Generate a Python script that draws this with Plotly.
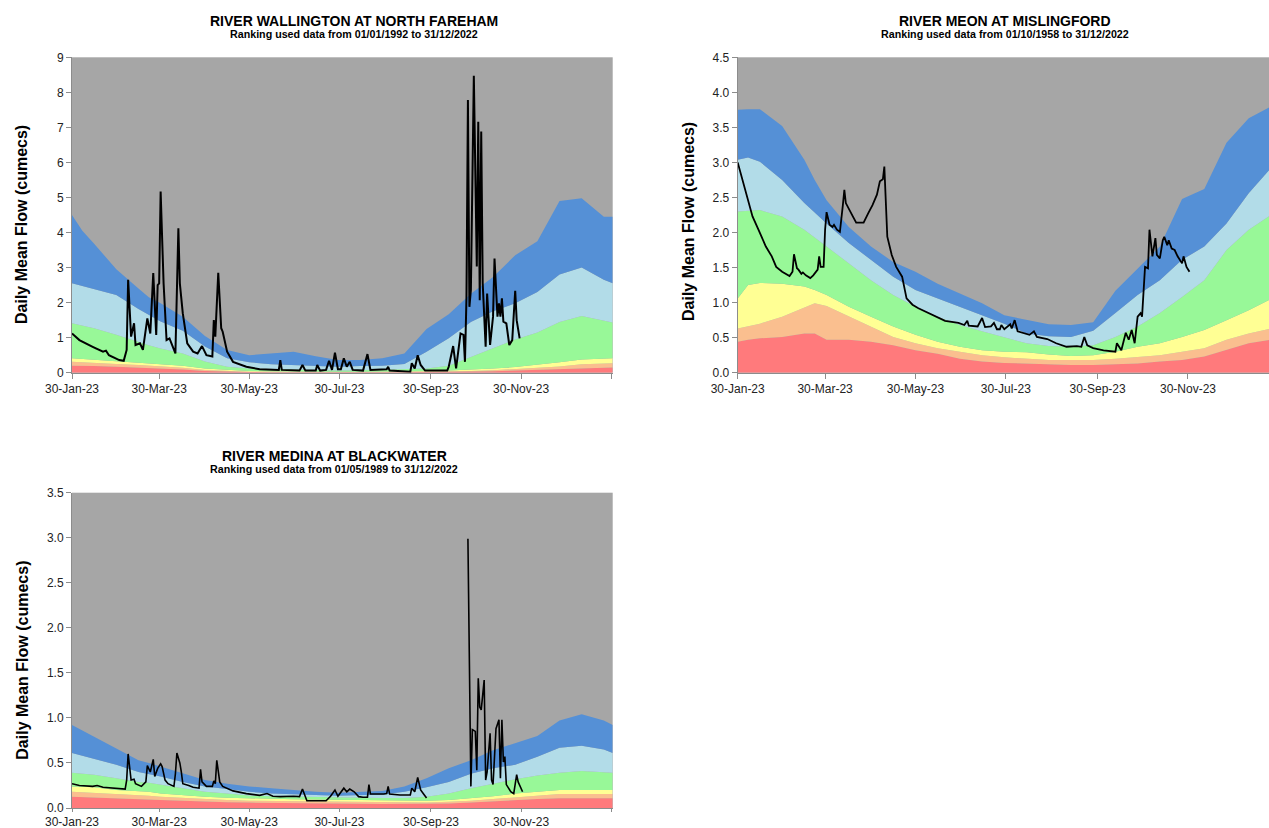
import pandas as pd
import plotly.graph_objects as go

START = pd.Timestamp("2023-01-30")

# ---------------- band sample days (offset from 30-Jan-23) ----------------
band_days = [0, 7, 15, 30, 45, 52, 60, 75, 90, 105, 120, 135, 150, 165, 180,
             195, 210, 225, 240, 255, 270, 285, 300, 315, 330, 345, 360, 366]

# ---- River Wallington at North Fareham: band upper limits (cumecs) ----
wal_red = [0.2, 0.2, 0.19, 0.17, 0.15, 0.135, 0.12, 0.09, 0.05, 0.03, 0.02, 0.015, 0.01, 0.01, 0.01,
           0.01, 0.01, 0.015, 0.02, 0.02, 0.03, 0.04, 0.06, 0.08, 0.11, 0.14, 0.15, 0.15]
wal_orange = [0.31, 0.3, 0.28, 0.25, 0.22, 0.2, 0.19, 0.14, 0.08, 0.05, 0.03, 0.025, 0.02, 0.02, 0.02,
              0.02, 0.02, 0.025, 0.03, 0.04, 0.05, 0.07, 0.1, 0.13, 0.18, 0.24, 0.27, 0.27]
wal_yellow = [0.41, 0.39, 0.37, 0.33, 0.3, 0.28, 0.26, 0.2, 0.12, 0.08, 0.05, 0.04, 0.03, 0.03, 0.03,
              0.03, 0.03, 0.04, 0.05, 0.06, 0.08, 0.12, 0.16, 0.22, 0.3, 0.38, 0.41, 0.41]
wal_green = [1.41, 1.34, 1.27, 1.08, 0.86, 0.78, 0.69, 0.55, 0.32, 0.17, 0.12, 0.1, 0.08, 0.07, 0.06,
             0.07, 0.08, 0.1, 0.12, 0.2, 0.45, 0.72, 0.95, 1.15, 1.45, 1.62, 1.48, 1.43]
wal_lblue = [2.55, 2.47, 2.38, 2.22, 1.82, 1.66, 1.46, 1.2, 0.75, 0.41, 0.3, 0.24, 0.22, 0.2, 0.17,
             0.19, 0.2, 0.25, 0.6, 0.98, 1.45, 1.75, 1.98, 2.3, 2.8, 3.0, 2.65, 2.55]
wal_blue = [4.5, 4.05, 3.68, 2.95, 2.4, 2.15, 1.98, 1.6, 1.05, 0.65, 0.5, 0.55, 0.6, 0.47, 0.36,
            0.36, 0.41, 0.55, 1.25, 1.67, 2.25, 2.73, 3.35, 3.75, 4.9, 4.98, 4.45, 4.45]

# ---- River Meon at Mislingford ----
meon_red = [0.44, 0.47, 0.49, 0.51, 0.56, 0.56, 0.47, 0.47, 0.44, 0.39, 0.32, 0.27, 0.2, 0.16, 0.14,
            0.13, 0.11, 0.11, 0.11, 0.12, 0.13, 0.16, 0.18, 0.23, 0.32, 0.42, 0.47, 0.48]
meon_orange = [0.63, 0.66, 0.7, 0.8, 0.93, 0.99, 0.95, 0.8, 0.66, 0.51, 0.42, 0.35, 0.3, 0.25, 0.22,
               0.2, 0.18, 0.18, 0.18, 0.2, 0.23, 0.25, 0.3, 0.35, 0.47, 0.56, 0.63, 0.64]
meon_yellow = [1.06, 1.25, 1.28, 1.27, 1.23, 1.18, 1.11, 0.94, 0.8, 0.66, 0.54, 0.44, 0.37, 0.32, 0.3,
               0.29, 0.26, 0.24, 0.25, 0.3, 0.37, 0.42, 0.51, 0.61, 0.75, 0.89, 1.05, 1.08]
meon_green = [2.3, 2.31, 2.32, 2.23, 2.04, 1.93, 1.8, 1.56, 1.32, 1.11, 0.94, 0.8, 0.68, 0.59, 0.5,
              0.42, 0.38, 0.37, 0.39, 0.51, 0.66, 0.85, 1.08, 1.32, 1.75, 2.04, 2.25, 2.3]
meon_lblue = [3.04, 3.07, 3.01, 2.75, 2.42, 2.28, 2.13, 1.85, 1.61, 1.37, 1.18, 1.06, 0.94, 0.82, 0.7,
              0.56, 0.52, 0.51, 0.6, 0.85, 1.11, 1.32, 1.61, 1.8, 2.13, 2.56, 2.92, 3.0]
meon_blue = [3.75, 3.76, 3.76, 3.52, 3.04, 2.75, 2.46, 2.08, 1.8, 1.58, 1.44, 1.27, 1.13, 0.99, 0.82,
             0.75, 0.69, 0.68, 0.72, 1.17, 1.48, 1.8, 2.48, 2.62, 3.28, 3.63, 3.8, 3.75]

# ---- River Medina at Blackwater ----
med_red = [0.125, 0.12, 0.115, 0.107, 0.1, 0.095, 0.09, 0.08, 0.07, 0.065, 0.06, 0.056, 0.052, 0.052, 0.05,
           0.047, 0.045, 0.045, 0.045, 0.05, 0.06, 0.075, 0.09, 0.1, 0.107, 0.107, 0.107, 0.107]
med_orange = [0.18, 0.175, 0.17, 0.155, 0.14, 0.135, 0.125, 0.11, 0.096, 0.088, 0.08, 0.077, 0.074, 0.072, 0.07,
              0.065, 0.06, 0.06, 0.06, 0.07, 0.08, 0.1, 0.12, 0.14, 0.155, 0.155, 0.155, 0.155]
med_yellow = [0.24, 0.235, 0.23, 0.2, 0.185, 0.18, 0.16, 0.14, 0.125, 0.115, 0.107, 0.1, 0.096, 0.093, 0.09,
              0.085, 0.08, 0.08, 0.08, 0.09, 0.11, 0.13, 0.16, 0.18, 0.2, 0.2, 0.2, 0.2]
med_green = [0.39, 0.38, 0.37, 0.33, 0.29, 0.28, 0.26, 0.22, 0.18, 0.16, 0.14, 0.13, 0.125, 0.12, 0.12,
             0.11, 0.11, 0.11, 0.125, 0.16, 0.22, 0.27, 0.32, 0.36, 0.39, 0.41, 0.4, 0.39]
med_lblue = [0.61, 0.58, 0.55, 0.48, 0.4, 0.38, 0.35, 0.29, 0.24, 0.21, 0.18, 0.16, 0.155, 0.145, 0.135,
             0.144, 0.15, 0.18, 0.23, 0.29, 0.38, 0.44, 0.48, 0.57, 0.67, 0.69, 0.65, 0.61]
med_blue = [0.92, 0.86, 0.79, 0.66, 0.53, 0.5, 0.46, 0.38, 0.31, 0.27, 0.24, 0.22, 0.2, 0.18, 0.17,
            0.18, 0.19, 0.24, 0.33, 0.44, 0.53, 0.64, 0.72, 0.8, 0.97, 1.04, 0.97, 0.92]

# ---------------- daily mean flow 2023 (day offset, cumecs) ----------------
wal_flow_days = [0, 5, 14, 21, 23, 25, 32, 35, 37, 38, 40, 42, 43, 46, 48, 51, 53, 55, 57, 58, 59, 60, 62, 64,
                 66, 70, 72, 73, 75, 78, 82, 85, 88, 91, 95, 96, 97, 99, 101, 102, 105, 109, 118, 127, 140,
                 141, 142, 154, 156, 158, 165, 166, 168, 172, 174, 176, 178, 180, 182, 184, 186, 188, 190,
                 197, 200, 202, 213, 214, 215, 229, 230, 232, 234, 236, 239, 254, 255, 258, 260, 261, 263,
                 265, 266, 267, 268, 269, 270, 272, 274, 275, 276, 277, 278, 280, 281, 283, 285, 286, 287,
                 288, 289, 290, 291, 292, 294, 296, 298, 300, 301, 303]
wal_flow = [1.12, 0.93, 0.74, 0.6, 0.63, 0.5, 0.36, 0.34, 0.65, 2.65, 1.03, 1.41, 0.79, 0.84, 0.65, 1.55, 1.12,
            2.84, 1.08, 2.5, 2.55, 5.17, 2.55, 0.93, 0.98, 0.55, 4.12, 2.55, 1.69, 0.84, 0.6, 0.55, 0.76, 0.5,
            0.46, 1.5, 1.03, 2.85, 1.27, 1.17, 0.6, 0.31, 0.17, 0.1, 0.08, 0.36, 0.08, 0.06, 0.22, 0.06, 0.06,
            0.22, 0.06, 0.08, 0.34, 0.08, 0.57, 0.1, 0.1, 0.41, 0.17, 0.31, 0.08, 0.06, 0.53, 0.08, 0.1, 0.17,
            0.06, 0.03, 0.27, 0.12, 0.5, 0.22, 0.06, 0.06, 0.17, 0.76, 0.12, 0.41, 1.12, 1.08, 0.31, 2.12,
            7.78, 1.88, 2.36, 8.47, 3.03, 7.16, 2.07, 6.88, 2.55, 0.74, 2.26, 0.79, 1.6, 3.26, 2.36, 1.6,
            1.98, 1.6, 2.12, 1.46, 1.41, 0.79, 0.93, 2.34, 1.5, 0.98]

meon_flow_days = [0, 5, 10, 14, 19, 23, 26, 30, 35, 37, 38, 40, 41, 43, 44, 46, 49, 51, 54, 55, 56, 58, 59,
                  60, 62, 64, 65, 67, 69, 71, 72, 73, 75, 78, 80, 85, 88, 91, 94, 96, 98, 99, 101, 104, 107,
                  111, 114, 118, 122, 127, 133, 140, 149, 153, 155, 156, 162, 165, 167, 171, 173, 175, 177,
                  178, 180, 184, 185, 187, 189, 193, 197, 200, 202, 209, 215, 222, 229, 232, 234, 236, 240,
                  247, 255, 256, 259, 262, 264, 266, 268, 270, 272, 273, 274, 275, 277, 278, 280, 282, 283,
                  285, 287, 288, 290, 291, 293, 295, 297, 300, 301, 303, 305]
meon_flow = [3.0, 2.61, 2.23, 2.04, 1.8, 1.66, 1.51, 1.44, 1.38, 1.44, 1.69, 1.49, 1.47, 1.41, 1.43, 1.39,
             1.35, 1.39, 1.47, 1.66, 1.51, 1.51, 2.04, 2.29, 2.11, 2.08, 2.11, 2.04, 2.01, 2.39, 2.61, 2.42,
             2.33, 2.22, 2.14, 2.14, 2.27, 2.39, 2.54, 2.73, 2.76, 2.94, 1.94, 1.68, 1.51, 1.37, 1.06, 0.97,
             0.92, 0.87, 0.8, 0.74, 0.71, 0.68, 0.74, 0.67, 0.66, 0.78, 0.65, 0.66, 0.71, 0.62, 0.62, 0.68,
             0.62, 0.69, 0.63, 0.75, 0.59, 0.56, 0.54, 0.59, 0.51, 0.48, 0.42, 0.37, 0.38, 0.37, 0.51, 0.39,
             0.35, 0.32, 0.3, 0.42, 0.32, 0.57, 0.47, 0.61, 0.42, 0.8, 0.85, 0.8, 1.27, 1.51, 1.49, 2.04,
             1.66, 1.92, 1.68, 1.63, 1.89, 1.94, 1.82, 1.89, 1.77, 1.75, 1.66, 1.56, 1.66, 1.51, 1.44]

med_flow_days = [0, 5, 14, 17, 21, 28, 36, 37, 38, 40, 42, 43, 47, 50, 51, 53, 55, 56, 58, 60, 61, 63, 65,
                 69, 70, 71, 73, 74, 75, 79, 82, 86, 87, 88, 91, 95, 96, 97, 98, 100, 102, 109, 118, 127,
                 132, 136, 141, 150, 154, 156, 158, 159, 168, 172, 175, 178, 180, 184, 186, 188, 191, 194,
                 197, 200, 201, 202, 211, 213, 214, 215, 222, 229, 230, 232, 234, 236, 238, 240, 254,
                 268, 270, 271, 273, 274, 275, 276, 277, 279, 280, 281, 283, 284, 285, 287, 289, 290, 291,
                 292, 293, 294, 297, 299, 301, 302, 305]
med_flow = [0.27, 0.25, 0.24, 0.25, 0.23, 0.22, 0.21, 0.31, 0.6, 0.31, 0.32, 0.27, 0.24, 0.29, 0.47, 0.4,
            0.54, 0.35, 0.44, 0.49, 0.46, 0.31, 0.27, 0.24, 0.38, 0.61, 0.5, 0.4, 0.27, 0.25, 0.23, 0.22,
            0.43, 0.29, 0.24, 0.24, 0.3, 0.27, 0.53, 0.29, 0.24, 0.19, 0.16, 0.14, 0.16, 0.13, 0.126, 0.13,
            0.126, 0.21, 0.107, 0.08, 0.08, 0.08, 0.13, 0.2, 0.13, 0.22, 0.18, 0.21, 0.18, 0.126, 0.12,
            0.12, 0.26, 0.155, 0.155, 0.16, 0.24, 0.155, 0.144, 0.144, 0.22, 0.18, 0.34, 0.2, 0.155, 0.11,
            None, 2.99, 0.24, 0.87, 0.85, 0.42, 1.44, 1.12, 1.09, 1.42, 0.31, 0.4, 0.83, 0.31, 0.26, 0.88,
            0.98, 0.33, 0.98, 0.51, 0.57, 0.26, 0.18, 0.16, 0.37, 0.29, 0.18]

titles = ["RIVER WALLINGTON AT NORTH FAREHAM", "RIVER MEON AT MISLINGFORD", "RIVER MEDINA AT BLACKWATER"]
subtitles = ["Ranking used data from 01/01/1992 to 31/12/2022",
             "Ranking used data from 01/10/1958 to 31/12/2022",
             "Ranking used data from 01/05/1989 to 31/12/2022"]
tick_dates = ["2023-01-30", "2023-03-30", "2023-05-30", "2023-07-30", "2023-09-30", "2023-11-30", "2024-01-30"]
tick_text = ["30-Jan-23", "30-Mar-23", "30-May-23", "30-Jul-23", "30-Sep-23", "30-Nov-23", ""]
y_label = "Daily Mean Flow (cumecs)"

band_colors = ["#FF7A7C", "#FABF8F", "#FFFF94", "#98F898", "#B2DCE8", "#5590D6"]
BG_GREY = "#A6A6A6"


def to_dates(days):
    return [START + pd.Timedelta(days=d) for d in days]


charts = [
    dict(bands=[wal_red, wal_orange, wal_yellow, wal_green, wal_lblue, wal_blue],
         days=wal_flow_days, flow=wal_flow, lw=2.0),
    dict(bands=[meon_red, meon_orange, meon_yellow, meon_green, meon_lblue, meon_blue],
         days=meon_flow_days, flow=meon_flow, lw=1.8),
    dict(bands=[med_red, med_orange, med_yellow, med_green, med_lblue, med_blue],
         days=med_flow_days, flow=med_flow, lw=1.6),
]

fig = go.Figure()
bx = to_dates(band_days)
for i, ch in enumerate(charts):
    xa = "x" if i == 0 else f"x{i+1}"
    ya = "y" if i == 0 else f"y{i+1}"
    for j, (vals, col) in enumerate(zip(ch["bands"], band_colors)):
        fig.add_trace(go.Scatter(x=bx, y=vals, mode="lines", line=dict(width=0, color=col),
                                 fill="tozeroy" if j == 0 else "tonexty", fillcolor=col,
                                 xaxis=xa, yaxis=ya, showlegend=False, hoverinfo="skip"))
    fig.add_trace(go.Scatter(x=to_dates(ch["days"]), y=ch["flow"], mode="lines",
                             line=dict(color="black", width=ch["lw"]), connectgaps=False,
                             xaxis=xa, yaxis=ya, showlegend=False))

W, H = 1269, 828
FONT = "Liberation Sans, Arial, sans-serif"


def px_x(p):
    return p / W


def px_y(p):
    return 1 - p / H


axis_common = dict(showline=True, linecolor="#8C8C8C", linewidth=1, ticks="outside",
                   tickcolor="#8C8C8C", showgrid=False, zeroline=False, automargin=False,
                   tickfont=dict(family=FONT, size=12, color="#222222"))

x_end_13 = START + pd.Timedelta(days=366)
x_end_2 = START + pd.Timedelta(days=358.7)

layout_axes = dict(
    xaxis=dict(domain=[px_x(72), px_x(612.7)], anchor="y", type="date", ticklen=5,
               range=[START, x_end_13], tickvals=tick_dates, ticktext=tick_text, **axis_common),
    yaxis=dict(domain=[px_y(372.7), px_y(57.3)], anchor="x", range=[0, 9], dtick=1, ticklen=5,
               tickformat="d", **axis_common),
    xaxis2=dict(domain=[px_x(737.7), 1.0], anchor="y2", type="date", ticklen=5,
                range=[START, x_end_2], tickvals=tick_dates, ticktext=tick_text, **axis_common),
    yaxis2=dict(domain=[px_y(372.7), px_y(57.3)], anchor="x2", range=[0, 4.5], dtick=0.5, ticklen=5,
                tickformat=".1f", **axis_common),
    xaxis3=dict(domain=[px_x(72), px_x(612.7)], anchor="y3", type="date", ticklen=3,
                range=[START, x_end_13], tickvals=tick_dates, ticktext=tick_text, **axis_common),
    yaxis3=dict(domain=[px_y(808), px_y(492.7)], anchor="x3", range=[0, 3.5], dtick=0.5, ticklen=5,
                tickformat=".1f", **axis_common),
)

annotations = []
title_pos = [(354, 21, 34), (1005, 21, 34), (334, 456, 469)]
for (cx, ty, sy), t, s in zip(title_pos, titles, subtitles):
    annotations.append(dict(x=px_x(cx), y=px_y(ty), xref="paper", yref="paper", text=f"<b>{t}</b>",
                            showarrow=False, xanchor="center", yanchor="middle",
                            font=dict(family=FONT, size=14, color="black")))
    annotations.append(dict(x=px_x(cx), y=px_y(sy), xref="paper", yref="paper", text=f"<b>{s}</b>",
                            showarrow=False, xanchor="center", yanchor="middle",
                            font=dict(family=FONT, size=10.7, color="black")))
for lx, ly in [(21, 225), (688, 222), (21.7, 660)]:
    annotations.append(dict(x=px_x(lx), y=px_y(ly), xref="paper", yref="paper", text=f"<b>{y_label}</b>",
                            showarrow=False, textangle=-90, xanchor="center", yanchor="middle",
                            font=dict(family=FONT, size=16, color="black")))

fig.update_layout(width=W, height=H, margin=dict(l=0, r=0, t=0, b=0, autoexpand=False),
                  paper_bgcolor="white", plot_bgcolor=BG_GREY,
                  annotations=annotations, **layout_axes)

fig.write_html("out.html", config={"displayModeBar": False},
               post_script="document.body.style.margin='0';document.body.style.overflow='hidden';")
